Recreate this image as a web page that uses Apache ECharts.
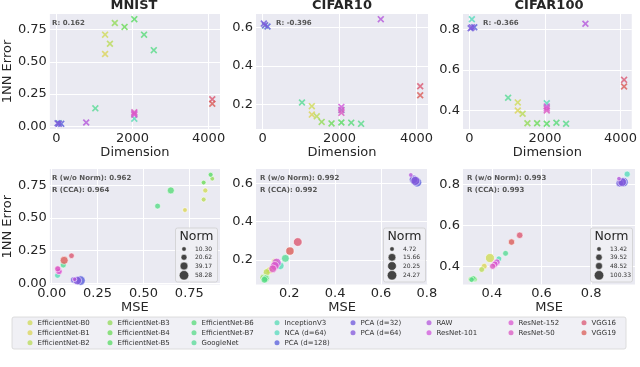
<!DOCTYPE html>
<html>
<head>
<meta charset="utf-8">
<script src="https://cdn.jsdelivr.net/npm/echarts@6/dist/echarts.min.js"></script>
<style>
html, body { margin: 0; padding: 0; background: #fff; }
#chart { width: 640px; height: 367px; }
</style>
</head>
<body>
<div id="chart"></div>
<script>
// models, in legend order
var models = ['EfficientNet-B0', 'EfficientNet-B1', 'EfficientNet-B2', 'EfficientNet-B3', 'EfficientNet-B4',
	'EfficientNet-B5', 'EfficientNet-B6', 'EfficientNet-B7', 'GoogleNet', 'InceptionV3', 'NCA (d=64)',
	'PCA (d=128)', 'PCA (d=32)', 'PCA (d=64)', 'RAW', 'ResNet-101', 'ResNet-152', 'ResNet-50', 'VGG16', 'VGG19'];
var modelHues = [65, 57, 75, 93, 111, 125, 135, 142, 148, 162, 166, 237, 250, 260, 282, 296, 305, 312, 348, 3];

var datasets = ['MNIST', 'CIFAR10', 'CIFAR100'];

// embedding dimension
var dimMNIST = [1280, 1280, 1408, 1536, 1792, 2048, 2304, 2560, 1024, 2048, 64, 128, 32, 64, 784, 2048, 2048, 2048, 4096, 4096];
var dimCIFAR = [1280, 1280, 1408, 1536, 1792, 2048, 2304, 2560, 1024, 2048, 64, 128, 32, 64, 3072, 2048, 2048, 2048, 4096, 4096];

// 1NN error
var errMNIST = [0.71, 0.56, 0.64, 0.80, 0.77, 0.83, 0.71, 0.59, 0.14, 0.06, 0.025, 0.02, 0.025, 0.02, 0.03, 0.10, 0.09, 0.11, 0.21, 0.175];
var errCIFAR10 = [0.19, 0.146, 0.137, 0.108, 0.10, 0.105, 0.104, 0.098, 0.209, 0.17, 0.61, 0.605, 0.62, 0.612, 0.643, 0.186, 0.17, 0.155, 0.294, 0.247];
var errCIFAR100 = [0.44, 0.40, 0.384, 0.337, 0.337, 0.335, 0.34, 0.335, 0.463, 0.436, 0.849, 0.81, 0.805, 0.81, 0.827, 0.42, 0.41, 0.40, 0.551, 0.518];

// MSE
var mseMNIST = [0.837, 0.726, 0.828, 0.875, 0.828, 0.866, 0.649, 0.577, 0.063, 0.032, 0.145, 0.157, 0.12, 0.14, 0.125, 0.036, 0.04, 0.033, 0.108, 0.068];
var mseCIFAR10 = [0.138, 0.113, 0.102, 0.087, 0.094, 0.099, 0.096, 0.092, 0.183, 0.161, 0.745, 0.757, 0.742, 0.75, 0.73, 0.145, 0.137, 0.128, 0.237, 0.203];
var mseCIFAR100 = [0.392, 0.369, 0.359, 0.315, 0.33, 0.32, 0.325, 0.318, 0.455, 0.428, 0.945, 0.93, 0.915, 0.925, 0.912, 0.42, 0.412, 0.403, 0.512, 0.479];

// norm (bubble size)
var normMNIST = [14, 12, 13, 11, 12, 13, 30, 20, 22, 20, 15, 58, 25, 45, 10.3, 28, 25, 22, 18, 40];
var normCIFAR10 = [14, 13, 13, 12, 12, 13, 13, 12, 16, 15, 15, 24.27, 20, 22, 4.72, 22, 20, 16, 20, 18];
var normCIFAR100 = [90, 30, 28, 25, 25, 26, 26, 25, 30, 30, 35, 100, 60, 80, 13.42, 40, 38, 35, 40, 38];
var normTicksMNIST = [10.30, 20.62, 39.17, 58.28];
var normTicksCIFAR10 = [4.72, 15.66, 20.25, 24.27];
var normTicksCIFAR100 = [13.42, 39.52, 48.52, 100.33];

// correlation texts
var rDim = ['R: 0.162', 'R: -0.396', 'R: -0.366'];
var rNorm = ['0.962', '0.992', '0.993'];
var rCCA = ['0.964', '0.992', '0.993'];

// tick values
var dimTicks = [0, 2000, 4000];
var errTicksMNIST = [0, 0.25, 0.5, 0.75];
var errTicksCIFAR10 = [0.2, 0.4, 0.6];
var errTicksCIFAR100 = [0.4, 0.6, 0.8];
var mseTicksMNIST = [0, 0.25, 0.5, 0.75];
var mseTicksCIFAR10 = [0.2, 0.4, 0.6, 0.8];
var mseTicksCIFAR100 = [0.4, 0.6, 0.8];

(function() {
	var FONT = 'DejaVu Sans';
	var TXT = '#262626';
	var colLeft = [48, 256, 463], colW = 172;
	var rowTop = [14, 169], rowH = [115, 115.5];
	var X_PATH = 'path://M0,1.7L1.7,0L5,3.3L8.3,0L10,1.7L6.7,5L10,8.3L8.3,10L5,6.7L1.7,10L0,8.3L3.3,5Z';

	var dims = [dimMNIST, dimCIFAR, dimCIFAR];
	var errs = [errMNIST, errCIFAR10, errCIFAR100];
	var mses = [mseMNIST, mseCIFAR10, mseCIFAR100];
	var norms = [normMNIST, normCIFAR10, normCIFAR100];
	var normTicks = [normTicksMNIST, normTicksCIFAR10, normTicksCIFAR100];
	var errTicks = [errTicksMNIST, errTicksCIFAR10, errTicksCIFAR100];
	var mseTicks = [mseTicksMNIST, mseTicksCIFAR10, mseTicksCIFAR100];
	var errRangeTop = [[-0.02, 0.87], [0.071, 0.67], [0.309, 0.875]];
	var errRangeBot = [[-0.01, 0.874], [0.073, 0.674], [0.311, 0.874]];
	var mseRange = [[-0.01, 0.917], [0.055, 0.805], [0.2835, 0.9765]];
	var decimals = [2, 1, 1];

	function hlsColor(h) {
		var s = 0.65, l = 0.6;
		var c = (1 - Math.abs(2 * l - 1)) * s, hp = h / 60, x = c * (1 - Math.abs(hp % 2 - 1)), m = l - c / 2;
		var rgb = hp < 1 ? [c, x, 0] : hp < 2 ? [x, c, 0] : hp < 3 ? [0, c, x] : hp < 4 ? [0, x, c] : hp < 5 ? [x, 0, c] : [c, 0, x];
		return 'rgb(' + rgb.map(function(v) { return Math.round((v + m) * 255); }).join(',') + ')';
	}
	var colors = modelHues.map(hlsColor);

	function bubble(norm, ticks) {
		var t = (norm - ticks[0]) / (ticks[ticks.length - 1] - ticks[0]);
		return Math.sqrt(4.5 * 4.5 + (9.5 * 9.5 - 4.5 * 4.5) * Math.max(0, t));
	}

	function axis(range, ticks, dec) {
		return {
			type: 'value', min: range[0], max: range[1],
			axisLine: { show: false },
			axisTick: { show: false, customValues: ticks },
			axisLabel: {
				customValues: ticks, color: TXT, fontSize: 13, fontFamily: FONT, margin: 3,
				formatter: function(v) { return v.toFixed(dec); }
			},
			splitLine: { show: true, lineStyle: { color: '#ffffff', width: 1 } }
		};
	}

	var grids = [], xAxes = [], yAxes = [], series = [], titles = [], graphics = [];

	for (var r = 0; r < 2; r++) {
		for (var c = 0; c < 3; c++) {
			var g = r * 3 + c;
			grids.push({ left: colLeft[c], top: rowTop[r], width: colW, height: rowH[r], show: true, backgroundColor: '#eaeaf2', borderWidth: 0 });

			var xa, ya;
			if (r === 0) {
				xa = axis([-171, 4299], dimTicks, 0);
				xa.name = 'Dimension';
				ya = axis(errRangeTop[c], errTicks[c], decimals[c]);
			} else {
				xa = axis(mseRange[c], mseTicks[c], decimals[c]);
				xa.name = 'MSE';
				ya = axis(errRangeBot[c], errTicks[c], decimals[c]);
			}
			xa.gridIndex = g;
			xa.nameLocation = 'middle';
			xa.nameGap = 17;
			xa.nameTextStyle = { color: TXT, fontSize: 13, fontFamily: FONT };
			ya.gridIndex = g;
			if (c === 0) {
				ya.name = '1NN Error';
				ya.nameLocation = 'middle';
				ya.nameGap = 32;
				ya.nameTextStyle = { color: TXT, fontSize: 13, fontFamily: FONT };
			}
			xAxes.push(xa);
			yAxes.push(ya);

			for (var i = 0; i < models.length; i++) {
				if (r === 0) {
					series.push({
						type: 'scatter', name: models[i], xAxisIndex: g, yAxisIndex: g,
						symbol: X_PATH, symbolSize: 7, silent: true,
						itemStyle: { color: colors[i] },
						data: [[dims[c][i], errs[c][i]]]
					});
				} else {
					series.push({
						type: 'scatter', name: models[i], xAxisIndex: g, yAxisIndex: g,
						symbol: 'circle', symbolSize: bubble(norms[c][i], normTicks[c]), silent: true,
						itemStyle: { color: colors[i], borderColor: '#ffffff', borderWidth: 0.7 },
						data: [[mses[c][i], errs[c][i]]]
					});
				}
			}
		}
	}

	// titles + annotations
	for (var c2 = 0; c2 < 3; c2++) {
		var cx = colLeft[c2] + colW / 2;
		titles.push({
			text: datasets[c2], left: cx, top: -1, textAlign: 'center', padding: 0,
			textStyle: { fontSize: 13, fontWeight: 'bold', color: TXT, fontFamily: FONT }
		});
		var lx = colLeft[c2] + 4;
		var rStyle = function(t, x, y) {
			return {
				type: 'text', x: x, y: y, z: 50, silent: true,
				style: { text: t, fill: '#555555', font: 'bold 7px "DejaVu Sans"', textVerticalAlign: 'middle', verticalAlign: 'middle' }
			};
		};
		graphics.push(rStyle(rDim[c2], colLeft[c2] + (c2 === 0 ? 4 : 20), 23));
		graphics.push(rStyle('R (w/o Norm): ' + rNorm[c2], lx, 178));
		graphics.push(rStyle('R (CCA): ' + rCCA[c2], lx, 190));

		// Norm size legend
		var bx = colLeft[c2] + colW - 44.5, by = 228;
		graphics.push({ type: 'rect', z: 50, silent: true, shape: { x: bx, y: by, width: 42, height: 54, r: 2 },
			style: { fill: 'rgba(240,240,245,0.85)', stroke: '#cfcfcf', lineWidth: 0.8 } });
		graphics.push({ type: 'text', z: 51, silent: true, x: bx + 21, y: by + 9,
			style: { text: 'Norm', fill: TXT, font: '12.5px "DejaVu Sans"', textAlign: 'center', align: 'center', textVerticalAlign: 'middle', verticalAlign: 'middle' } });
		var rowsY = [249, 257.3, 266, 275.3];
		for (var k = 0; k < 4; k++) {
			var d = bubble(normTicks[c2][k], normTicks[c2]);
			graphics.push({ type: 'circle', z: 51, silent: true, shape: { cx: bx + 8.5, cy: rowsY[k], r: d / 2 },
				style: { fill: '#444444', stroke: '#ffffff', lineWidth: 0.5 } });
			graphics.push({ type: 'text', z: 51, silent: true, x: bx + 19.5, y: rowsY[k],
				style: { text: normTicks[c2][k].toFixed(2), fill: '#333333', font: '6px "DejaVu Sans"', textVerticalAlign: 'middle', verticalAlign: 'middle' } });
		}
	}

	// model legend box
	graphics.push({ type: 'rect', silent: true, z: -10, shape: { x: 12, y: 317, width: 614, height: 32, r: 2 },
		style: { fill: '#f0f0f5', stroke: '#d6d6d6', lineWidth: 0.8 } });

	var legendCols = [[0, 1, 2], [3, 4, 5], [6, 7, 8], [9, 10, 11], [12, 13], [14, 15], [16, 17], [18, 19]];
	var legendX = [30, 110, 194, 277, 353, 429, 511, 584];
	var legends = legendCols.map(function(col, j) {
		return {
			orient: 'vertical', left: legendX[j] - 2.5, top: 317.7, padding: 0,
			itemWidth: 5, itemHeight: 5, itemGap: 0, icon: 'circle', selectedMode: false,
			itemStyle: { borderWidth: 0, opacity: 0.75 },
			textStyle: { fontSize: 7, color: '#333333', lineHeight: 10, fontFamily: FONT },
			data: col.map(function(i) { return models[i]; })
		};
	});

	var chart = echarts.init(document.getElementById('chart'));
	chart.setOption({
		animation: false,
		backgroundColor: '#ffffff',
		textStyle: { fontFamily: FONT },
		title: titles,
		legend: legends,
		grid: grids,
		xAxis: xAxes,
		yAxis: yAxes,
		series: series,
		graphic: graphics
	});
})();
</script>
</body>
</html>
